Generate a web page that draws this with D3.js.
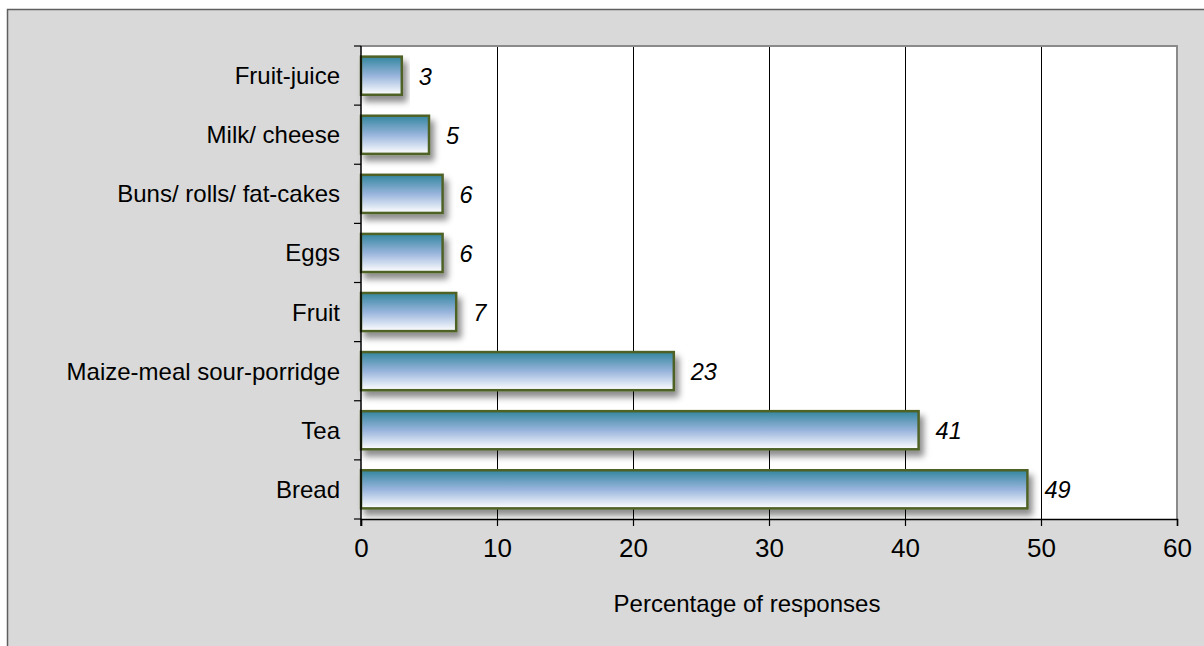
<!DOCTYPE html>
<html>
<head>
<meta charset="utf-8">
<script src="https://cdn.jsdelivr.net/npm/d3@7"></script>
<style>
  html, body { margin: 0; padding: 0; background: #ffffff; }
  svg { display: block; }
  text { font-family: Arial, "Liberation Sans", sans-serif; fill: #000; }
</style>
</head>
<body>
<svg id="chart" width="1204" height="646"></svg>
<script>
// Breakfast items, top to bottom
const categories = [
  "Fruit-juice",
  "Milk/ cheese",
  "Buns/ rolls/ fat-cakes",
  "Eggs",
  "Fruit",
  "Maize-meal sour-porridge",
  "Tea",
  "Bread"
];
const values = [3, 5, 6, 6, 7, 23, 41, 49];
const xTicks = [0, 10, 20, 30, 40, 50, 60];
const xTitle = "Percentage of responses";

const W = 1204, H = 646;
const plot = { left: 361, right: 1177, top: 46, bottom: 519 };

const svg = d3.select("#chart");

// gradient + shadow definitions
const defs = svg.append("defs");
const grad = defs.append("linearGradient")
  .attr("id", "barFill").attr("x1", 0).attr("y1", 0).attr("x2", 0).attr("y2", 1);
grad.append("stop").attr("offset", "0%").attr("stop-color", "#33869f");
grad.append("stop").attr("offset", "50%").attr("stop-color", "#98b4dc");
grad.append("stop").attr("offset", "100%").attr("stop-color", "#ffffff");

const shadow = defs.append("filter").attr("id", "barShadow")
  .attr("x", "-10%").attr("y", "-30%").attr("width", "130%").attr("height", "190%");
shadow.append("feDropShadow")
  .attr("dx", 4).attr("dy", 6).attr("stdDeviation", 3)
  .attr("flood-color", "#000").attr("flood-opacity", 0.45);

// chart area background with frame
svg.append("rect").attr("x", 0).attr("y", 0).attr("width", W).attr("height", H).attr("fill", "#ffffff");
svg.append("rect")
  .attr("x", 7.5).attr("y", 9.5).attr("width", W + 10).attr("height", H + 10)
  .attr("fill", "#d9d9d9").attr("stroke", "#5f5f5f").attr("stroke-width", 1.5);

const x = d3.scaleLinear().domain([0, 60]).range([plot.left, plot.right]);
const y = d3.scaleBand().domain(categories).range([plot.top, plot.bottom])
  .paddingInner(0.355).paddingOuter(0.18);

// plot area
svg.append("rect")
  .attr("x", plot.left).attr("y", plot.top)
  .attr("width", plot.right - plot.left).attr("height", plot.bottom - plot.top)
  .attr("fill", "#ffffff");

// vertical gridlines
svg.append("g").selectAll("line")
  .data(xTicks.filter(d => d > 0 && d < 60))
  .join("line")
  .attr("x1", d => Math.round(x(d)) + 0.5).attr("x2", d => Math.round(x(d)) + 0.5)
  .attr("y1", plot.top).attr("y2", plot.bottom)
  .attr("stroke", "#000").attr("stroke-width", 1);

// top and right plot border
svg.append("path")
  .attr("d", `M${plot.left},${plot.top} H${plot.right} V${plot.bottom}`)
  .attr("fill", "none").attr("stroke", "#8a8a8a").attr("stroke-width", 2);

// bars
svg.append("g").selectAll("rect")
  .data(categories.map((c, i) => ({ c, v: values[i] })))
  .join("rect")
  .attr("x", x(0))
  .attr("y", d => y(d.c))
  .attr("width", d => x(d.v) - x(0))
  .attr("height", y.bandwidth())
  .attr("fill", "url(#barFill)")
  .attr("stroke", "#4f6228").attr("stroke-width", 2.5)
  .attr("filter", "url(#barShadow)");

// value labels
svg.append("g").selectAll("text")
  .data(categories.map((c, i) => ({ c, v: values[i] })))
  .join("text")
  .attr("x", d => x(d.v) + 17)
  .attr("y", d => y(d.c) + y.bandwidth() / 2 + 9)
  .attr("font-size", 23.5)
  .attr("font-style", "italic")
  .text(d => d.v);

// x axis
const xAxis = svg.append("g")
  .attr("transform", `translate(0,${plot.bottom})`)
  .call(d3.axisBottom(x).tickValues(xTicks).tickSize(7).tickPadding(13));
xAxis.select(".domain").attr("stroke", "#000").attr("stroke-width", 1.5);
xAxis.selectAll(".tick line").attr("stroke", "#000").attr("stroke-width", 1.2);
xAxis.selectAll(".tick text")
  .attr("font-size", 26).attr("font-family", "Arial, 'Liberation Sans', sans-serif")
  .attr("fill", "#000");

// y axis: ticks on category boundaries
const yScaleEdges = d3.scaleLinear().domain([0, categories.length]).range([plot.top, plot.bottom]);
const yAxis = svg.append("g");
yAxis.append("line")
  .attr("x1", plot.left).attr("x2", plot.left)
  .attr("y1", plot.top).attr("y2", plot.bottom + 7)
  .attr("stroke", "#000").attr("stroke-width", 1.5);
yAxis.selectAll("line.edge")
  .data(d3.range(categories.length + 1))
  .join("line").attr("class", "edge")
  .attr("x1", plot.left - 7).attr("x2", plot.left)
  .attr("y1", d => yScaleEdges(d)).attr("y2", d => yScaleEdges(d))
  .attr("stroke", "#000").attr("stroke-width", 1.2);

// category labels
svg.append("g").selectAll("text")
  .data(categories)
  .join("text")
  .attr("x", 340)
  .attr("y", d => y(d) + y.bandwidth() / 2 + 8.5)
  .attr("text-anchor", "end")
  .attr("font-size", 24)
  .text(d => d);

// axis title
svg.append("text")
  .attr("x", 747)
  .attr("y", 612)
  .attr("text-anchor", "middle")
  .attr("font-size", 24)
  .text(xTitle);
</script>
</body>
</html>
